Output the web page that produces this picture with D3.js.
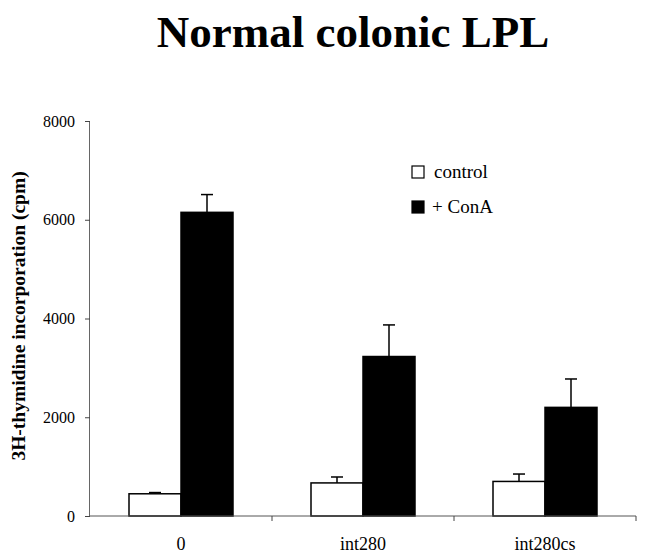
<!DOCTYPE html>
<html>
<head>
<meta charset="utf-8">
<script src="https://cdn.jsdelivr.net/npm/d3@7"></script>
<style>
  html, body { margin: 0; padding: 0; background: #fff; }
  svg { display: block; }
  svg text { font-family: "Liberation Serif", "Times New Roman", Times, serif !important; }
</style>
</head>
<body>
<svg id="chart" width="646" height="556"></svg>
<script>
const categories = ["0", "int280", "int280cs"];
const seriesNames = ["control", "+ ConA"];
const controlValues = [450, 670, 700];
const controlErrors = [25, 120, 150];
const conaValues = [6150, 3230, 2200];
const conaErrors = [360, 640, 575];
const yTicks = [0, 2000, 4000, 6000, 8000];
const titleText = "Normal colonic LPL";
const yLabelText = "3H-thymidine incorporation (cpm)";

const svg = d3.select("#chart");
const plotLeft = 90, plotRight = 636, plotTop = 121, plotBottom = 516;

const x = d3.scaleBand().domain(categories).range([plotLeft, plotRight]).paddingInner(0).paddingOuter(0);
const xs = d3.scaleBand().domain(seriesNames).range([0, x.bandwidth()]).paddingInner(0).paddingOuter(0.75);
const y = d3.scaleLinear().domain([0, 8000]).range([plotBottom, plotTop]);

const rows = [];
categories.forEach((c, i) => {
  rows.push({cat: c, s: seriesNames[0], v: controlValues[i], e: controlErrors[i], fill: "#fff"});
  rows.push({cat: c, s: seriesNames[1], v: conaValues[i], e: conaErrors[i], fill: "#000"});
});

// Title
svg.append("text")
  .attr("x", 353).attr("y", 47)
  .attr("text-anchor", "middle")
  .attr("font-size", 45).attr("font-weight", "bold")
  .text(titleText);

// Error bars (upper only)
const eg = svg.append("g").attr("stroke", "#000").attr("stroke-width", 1.5);
rows.forEach(d => {
  const cx = x(d.cat) + xs(d.s) + xs.bandwidth() / 2;
  eg.append("line").attr("x1", cx).attr("x2", cx).attr("y1", y(d.v)).attr("y2", y(d.v + d.e));
  eg.append("line").attr("x1", cx - 6).attr("x2", cx + 6).attr("y1", y(d.v + d.e)).attr("y2", y(d.v + d.e));
});

// Bars
svg.append("g").selectAll("rect").data(rows).join("rect")
  .attr("x", d => x(d.cat) + xs(d.s))
  .attr("y", d => y(d.v))
  .attr("width", xs.bandwidth())
  .attr("height", d => y(0) - y(d.v))
  .attr("fill", d => d.fill)
  .attr("stroke", "#000")
  .attr("stroke-width", 1.5);

// Y axis
const yAxis = svg.append("g").attr("transform", `translate(${plotLeft},0)`)
  .call(d3.axisLeft(y).tickValues(yTicks).tickSize(5).tickPadding(10).tickFormat(d3.format("d")));
yAxis.select(".domain").attr("stroke", "#666").attr("d", `M-0.5,${plotTop}V${plotBottom}`);
yAxis.selectAll(".tick line").attr("stroke", "#444");
yAxis.selectAll(".tick text").attr("font-size", 16).attr("fill", "#000");

// X axis
const xAxis = svg.append("g").attr("transform", `translate(0,${plotBottom})`);
xAxis.append("line").attr("x1", plotLeft).attr("x2", plotRight).attr("y1", 0).attr("y2", 0)
  .attr("stroke", "#555").attr("stroke-width", 1);
xAxis.selectAll("line.tk").data(categories).join("line").attr("class", "tk")
  .attr("x1", d => x(d) + x.bandwidth()).attr("x2", d => x(d) + x.bandwidth())
  .attr("y1", 0).attr("y2", 5).attr("stroke", "#444");
xAxis.selectAll("text").data(categories).join("text")
  .attr("x", d => x(d) + x.bandwidth() / 2)
  .attr("y", 34)
  .attr("text-anchor", "middle")
  .attr("font-size", 18)
  .text(d => d);

// Y label
svg.append("text")
  .attr("transform", "translate(25,316) rotate(-90)")
  .attr("text-anchor", "middle")
  .attr("font-size", 19.5).attr("font-weight", "bold")
  .text(yLabelText);

// Legend
const legend = svg.append("g");
const legendFills = ["#fff", "#000"];
seriesNames.forEach((s, i) => {
  const by = 178 + i * 35;
  legend.append("rect").attr("x", 412).attr("y", by - 12).attr("width", 12).attr("height", 12)
    .attr("fill", legendFills[i]).attr("stroke", "#000").attr("stroke-width", 1.2);
  legend.append("text").attr("x", i === 0 ? 434 : 432).attr("y", by)
    .attr("font-size", 19).text(s);
});
</script>
</body>
</html>
